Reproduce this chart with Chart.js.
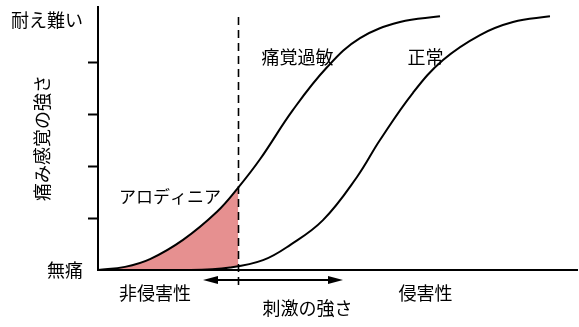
<!DOCTYPE html>
<html><head><meta charset="utf-8">
<script src="https://cdn.jsdelivr.net/npm/chart.js@4/dist/chart.umd.min.js"></script>
<style>html,body{margin:0;padding:0;background:#fff}#wrap{width:579px;height:327px}</style>
</head><body><div id="wrap"><canvas id="c" width="579" height="327"></canvas></div>
<script>
// stimulus intensity (0-100) vs pain intensity (0 = 無痛 … ~4.9 = 耐え難い)
const hyperX = [0, 5.64, 10.86, 17.75, 24.84, 29.23, 33.82, 40.71, 47.81, 54.70, 63.05, 71.40];
const hyperY = [0, 0.06, 0.21, 0.58, 1.12, 1.58, 2.13, 3.08, 3.90, 4.46, 4.77, 4.88];
const normalX = [0, 19.21, 27.56, 34.45, 40.08, 46.97, 54.07, 58.87, 65.76, 72.03, 79.75, 86.64, 94.36];
const normalY = [0, 0, 0.05, 0.19, 0.48, 0.96, 1.79, 2.50, 3.41, 4.04, 4.52, 4.77, 4.88];
const allodyniaX = [0, 5.64, 10.86, 17.75, 24.84, 29.3];
const allodyniaY = [0, 0.06, 0.21, 0.58, 1.12, 1.59];
const dividerX = 29.3;              // 非侵害性 / 侵害性 threshold
const yTickValues = [0, 1, 2, 3, 4, 4.8];
const yTickLabels = ['無痛', '', '', '', '', '耐え難い'];
const yTitle = '痛み感覚の強さ';
const xTitle = '刺激の強さ';
const leftZone = '非侵害性', rightZone = '侵害性';
const curveLabels = ['痛覚過敏', '正常', 'アロディニア'];

const FONT = '"Noto Sans CJK JP", "Noto Sans", sans-serif';
const pts = (xs, ys) => xs.map((x, i) => ({x, y: ys[i]}));

const annot = {
  id: 'annot',
  afterDraw(chart) {
    const {ctx, scales: {x, y}} = chart;
    ctx.save();
    // dashed threshold line
    const dx = Math.round(x.getPixelForValue(dividerX)) + 0.5;
    ctx.strokeStyle = '#000'; ctx.lineWidth = 1.6;
    ctx.setLineDash([8, 5]);
    ctx.beginPath(); ctx.moveTo(dx, 17); ctx.lineTo(dx, 290); ctx.stroke();
    ctx.setLineDash([]);
    // double-headed arrow
    const ay = 280, ax1 = 203, ax2 = 343, hl = 15, hw = 4;
    ctx.lineWidth = 2;
    ctx.beginPath(); ctx.moveTo(ax1 + hl - 2, ay); ctx.lineTo(ax2 - hl + 2, ay); ctx.stroke();
    ctx.fillStyle = '#000';
    ctx.beginPath(); ctx.moveTo(ax1, ay); ctx.lineTo(ax1 + hl, ay - hw); ctx.lineTo(ax1 + hl, ay + hw); ctx.closePath(); ctx.fill();
    ctx.beginPath(); ctx.moveTo(ax2, ay); ctx.lineTo(ax2 - hl, ay - hw); ctx.lineTo(ax2 - hl, ay + hw); ctx.closePath(); ctx.fill();
    // texts
    ctx.fillStyle = '#000';
    ctx.textAlign = 'center'; ctx.textBaseline = 'middle';
    const t = (s, px, py, size) => { ctx.font = size + 'px ' + FONT; ctx.fillText(s, px, py); };
    t(curveLabels[0], 297.5, 57, 18);
    t(curveLabels[1], 425.5, 57, 18);
    t(curveLabels[2], 170, 197, 17);
    t(leftZone, 155, 293, 18);
    t(rightZone, 425.5, 293, 18);
    t(xTitle, 307.5, 308, 18);
    ctx.translate(42, 138); ctx.rotate(-Math.PI / 2);
    t(yTitle, 0, 0, 18);
    ctx.restore();
  }
};

new Chart(document.getElementById('c'), {
  type: 'line',
  data: {
    datasets: [
      { label: 'アロディニア', data: pts(allodyniaX, allodyniaY), borderWidth: 0, pointRadius: 0,
        backgroundColor: 'rgb(230,144,144)', fill: {target: 2}, tension: 0.4, order: 5 },
      { label: '痛覚過敏', data: pts(hyperX, hyperY), borderColor: '#000', borderWidth: 2, pointRadius: 0,
        fill: false, tension: 0.4, order: 1 },
      { label: '正常', data: pts(normalX, normalY), borderColor: '#000', borderWidth: 2, pointRadius: 0,
        fill: false, tension: 0.4, order: 1 }
    ]
  },
  options: {
    responsive: false, animation: false, devicePixelRatio: 1,
    layout: { padding: { top: 7, right: 2, left: 0, bottom: 0 } },
    plugins: { legend: { display: false }, tooltip: { enabled: false } },
    scales: {
      x: {
        type: 'linear', min: 0, max: 100,
        ticks: { display: false },
        grid: { display: true, drawOnChartArea: false, drawTicks: false },
        border: { display: true, color: '#000', width: 2 },
        afterFit(s) { s.height = 57; s.paddingLeft = 0; s.paddingRight = 0; }
      },
      y: {
        type: 'linear', min: 0, max: 5.06,
        afterBuildTicks(s) { s.ticks = yTickValues.map(v => ({value: v})); },
        ticks: { autoSkip: false, color: '#000', padding: 5, font: { size: 18, family: FONT },
                 callback: (v, i) => yTickLabels[i] },
        grid: { drawOnChartArea: false, drawTicks: true, tickLength: 10, tickWidth: 2,
                tickColor: c => (c.tick && yTickLabels[c.index] === '' ? '#000' : 'rgba(0,0,0,0)') },
        border: { display: true, color: '#000', width: 2 },
        afterFit(s) { s.width = 98; s.paddingTop = 0; s.paddingBottom = 0; }
      }
    }
  },
  plugins: [annot]
});
</script>
</body></html>
